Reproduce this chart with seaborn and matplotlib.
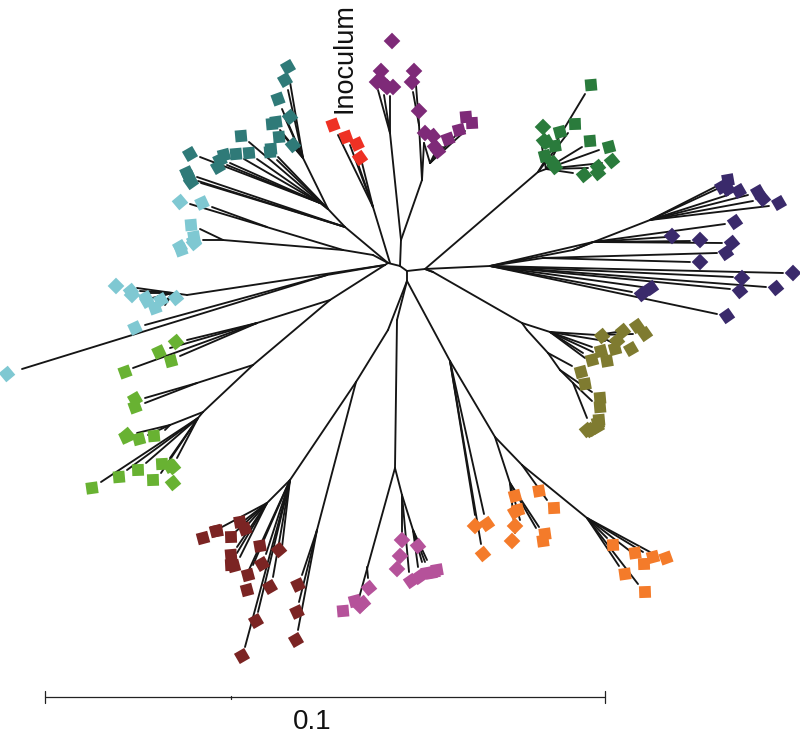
import matplotlib
matplotlib.use("Agg")
import matplotlib.pyplot as plt
from matplotlib.markers import MarkerStyle
from matplotlib.transforms import Affine2D
import pandas as pd
import seaborn as sns

clades = ["teal", "sky", "lime", "maroon", "pink", "orange", "olive", "navy", "forest", "purple", "red"]
colors = ["#2f7a78", "#7fc8d2", "#68b232", "#7b2423", "#b5529a", "#f47b2a", "#7f7b30", "#3a2a6b", "#2a7b3c", "#7e2a78", "#ee3124"]

teal_x = [288, 285, 278, 290, 272, 276, 279, 293, 270, 271, 241, 249, 236, 224, 220, 218, 190, 187, 189, 191]
teal_y = [67, 80, 99, 117, 124, 122, 137, 145, 152, 149, 136, 153, 154, 155, 160, 167, 154, 173, 177, 182]
teal_a = [30, 30, 20, 40, 5, 8, 5, 40, 5, 5, 5, 5, 5, 15, 25, 30, 30, 25, 25, 35]

sky_x = [180, 202, 191, 194, 194, 194, 180, 181, 116, 131, 132, 146, 147, 161, 155, 176, 135, 7]
sky_y = [202, 203, 225, 237, 241, 243, 247, 250, 286, 291, 295, 298, 301, 300, 308, 298, 328, 374]
sky_a = [40, 25, 5, 10, 30, 40, 30, 20, 45, 40, 45, 30, 30, 30, 20, 40, 25, 40]

lime_x = [176, 159, 171, 125, 135, 135, 127, 126, 139, 154, 162, 170, 173, 138, 119, 92, 153, 173]
lime_y = [342, 352, 361, 372, 399, 407, 435, 437, 439, 436, 464, 466, 467, 470, 477, 488, 480, 483]
lime_a = [40, 25, 15, 20, 30, 20, 40, 25, 15, 5, 3, 30, 40, 2, 5, 8, 2, 40]

maroon_x = [203, 216, 217, 240, 245, 231, 260, 279, 231, 231, 234, 262, 248, 247, 270, 298, 297, 256, 296, 242]
maroon_y = [538, 531, 531, 522, 529, 537, 546, 550, 555, 565, 566, 564, 575, 590, 587, 585, 612, 621, 640, 656]
maroon_a = [15, 15, 10, 10, 20, 2, 10, 40, 5, 3, 15, 30, 15, 15, 30, 25, 25, 30, 30, 30]

pink_x = [369, 355, 360, 363, 343, 402, 400, 397, 418, 411, 419, 427, 431, 434, 437]
pink_y = [588, 601, 606, 603, 611, 540, 556, 569, 546, 581, 577, 573, 573, 572, 570]
pink_a = [40, 15, 45, 40, 5, 45, 45, 45, 40, 35, 35, 10, 10, 10, 10]

orange_x = [475, 487, 483, 515, 515, 518, 515, 512, 545, 543, 539, 554, 613, 635, 653, 666, 644, 625, 645]
orange_y = [526, 524, 554, 496, 512, 510, 526, 541, 534, 541, 491, 508, 545, 553, 557, 558, 564, 574, 592]
orange_a = [45, 35, 40, 15, 30, 15, 45, 45, 8, 8, 10, 3, 3, 8, 15, 20, 2, 8, 2]

olive_x = [602, 623, 637, 645, 617, 615, 631, 601, 592, 607, 581, 585, 600, 600, 599, 598, 597, 593, 590, 587]
olive_y = [336, 331, 326, 334, 341, 349, 349, 351, 360, 361, 372, 384, 398, 407, 420, 423, 427, 429, 430, 430]
olive_a = [40, 40, 35, 35, 40, 15, 30, 15, 15, 10, 15, 10, 5, 5, 5, 15, 30, 35, 40, 40]

navy_x = [728, 722, 728, 739, 758, 763, 779, 735, 672, 700, 732, 726, 700, 793, 742, 776, 740, 651, 642, 727]
navy_y = [180, 187, 189, 191, 192, 199, 203, 222, 236, 240, 243, 253, 262, 273, 278, 288, 291, 288, 294, 316]
navy_a = [10, 30, 30, 30, 30, 40, 30, 35, 45, 45, 40, 35, 45, 45, 45, 40, 40, 35, 40, 35]

forest_x = [591, 575, 543, 560, 590, 609, 612, 544, 547, 555, 545, 553, 555, 598, 598, 584]
forest_y = [85, 124, 127, 132, 141, 147, 161, 141, 142, 146, 156, 163, 167, 167, 173, 175]
forest_a = [5, 2, 45, 15, 5, 15, 40, 40, 30, 10, 15, 40, 40, 40, 40, 40]

purple_x = [392, 381, 377, 383, 387, 393, 414, 412, 419, 425, 433, 435, 438, 448, 459, 466, 472]
purple_y = [41, 71, 82, 83, 87, 87, 71, 82, 111, 133, 136, 147, 151, 139, 130, 117, 123]
purple_a = [45, 45, 45, 45, 45, 45, 45, 45, 45, 45, 40, 40, 40, 20, 15, 5, 3]

red_x = [333, 346, 357, 360]
red_y = [125, 137, 144, 158]
red_a = [20, 20, 25, 35]

branch_x1 = [388,400,407,407,425,425,400,401,401,390,390,390,422,419,419,422,424,430,430,430,430,390,373,373,373,373,
 388,345,345,345,345,328,328,320,320,320,320,320,328,328,328,303,303,303,303,303,303,303,
 388,343,343,267,223,223,
 385,187,173,173,173,173,173,173,173,385,327,327,
 388,330,330,257,257,257,257,253,253,197,197,203,203,170,170,170,198,198,198,198,198,198,
 407,388,356,356,317,317,317,290,267,267,267,267,267,267,267,290,290,290,290,290,290,290,
 407,397,395,395,402,402,402,413,413,413,413,367,
 407,450,450,450,450,495,495,510,510,510,510,522,522,587,587,587,587,587,587,
 425,433,522,522,550,550,550,597,597,597,550,550,550,527,548,548,560,560,573,573,
 490,490,490,573,573,650,650,650,650,650,650,593,593,593,593,543,543,490,490,490,490,490,490,490,
 425,538,538,538,546,546,546,546,546,546,546, 373]
branch_y1 = [263,266,271,271,269,269,266,240,240,133,133,133,180,125,125,180,143,163,163,163,163,263,207,207,207,207,
 263,227,227,227,227,209,209,203,203,203,203,203,209,209,209,158,158,158,158,158,158,158,
 263,250,250,227,240,240,
 265,295,293,293,293,293,293,293,293,265,275,275,
 263,300,300,323,323,323,323,365,365,383,383,412,412,425,425,425,418,418,418,418,418,418,
 281,330,382,382,530,530,530,480,503,503,503,503,503,503,503,480,480,480,480,480,480,480,
 281,320,468,468,495,495,495,530,530,530,530,567,
 281,361,361,361,361,437,437,483,483,483,483,465,465,518,518,518,518,518,518,
 269,272,323,323,332,332,332,335,335,335,332,332,332,330,353,353,370,370,383,383,
 266,266,266,250,250,220,220,220,220,220,220,242,242,242,242,258,258,266,266,266,266,266,266,266,
 269,172,172,172,169,169,169,169,169,169,169, 255]
branch_x2 = [400,407,425,407,490,433,401,390,422,378,384,390,419,416,413,424,430,435,443,458,465,373,338,350,356,362,
 345,197,201,198,328,320,303,200,230,227,244,257,278,277,249,290,288,282,280,285,292,283,
 373,223,190,212,203,200,
 187,173,137,140,150,163,152,165,158,327,145,22,
 330,257,253,187,170,180,133,197,203,145,145,170,198,137,148,165,101,127,146,177,170,161,
 388,356,290,317,302,299,298,267,222,237,237,240,245,232,243,245,258,273,266,282,253,248,
 397,395,359,402,402,409,413,418,422,425,427,368,
 450,475,484,481,495,510,522,515,539,536,520,547,587,607,630,643,650,619,638,
 433,522,550,527,597,583,592,633,613,623,605,585,593,548,572,560,592,573,592,587,
 573,543,593,650,593,715,717,728,748,753,769,725,667,690,722,717,690,783,733,766,730,642,632,717,
 538,585,568,546,542,560,582,599,602,588,573, 343]
branch_y2 = [266,271,269,281,266,272,240,133,180,90,95,96,125,85,92,143,163,153,147,133,131,207,135,145,158,163,
 227,177,183,181,209,203,158,157,163,165,159,159,157,160,142,82,90,109,130,118,140,135,
 255,240,204,207,240,229,
 295,293,288,291,293,304,298,305,296,275,325,369,
 300,323,365,340,348,356,368,383,412,398,403,425,418,433,435,430,482,470,463,458,458,473,
 330,382,480,530,575,602,630,503,527,547,553,557,520,535,530,647,612,577,554,547,565,572,
 320,468,598,495,533,572,530,567,562,562,560,578,
 361,515,514,544,437,483,465,533,527,528,520,500,518,538,551,552,552,566,584,
 272,323,332,330,335,353,347,334,343,331,341,358,352,353,366,370,392,383,401,418,
 250,258,242,220,242,187,189,195,195,201,206,224,237,241,243,253,262,273,277,287,289,287,292,314,
 172,94,133,169,147,143,147,150,163,168,173, 250]

sns.set_theme(style="white")
plt.rcParams["font.family"] = ["Liberation Sans", "DejaVu Sans"]

fig = plt.figure(figsize=(8, 7.41), dpi=100)
ax = fig.add_axes([0, 0, 1, 1])

edges = pd.DataFrame({
    "edge": list(range(len(branch_x1))) * 2,
    "x": branch_x1 + branch_x2,
    "y": branch_y1 + branch_y2,
})
sns.lineplot(data=edges, x="x", y="y", units="edge", estimator=None, sort=False,
             color="#151515", linewidth=1.35, ax=ax, legend=False)

tip_sets = [(teal_x, teal_y, teal_a), (sky_x, sky_y, sky_a), (lime_x, lime_y, lime_a),
            (maroon_x, maroon_y, maroon_a), (pink_x, pink_y, pink_a), (orange_x, orange_y, orange_a),
            (olive_x, olive_y, olive_a), (navy_x, navy_y, navy_a), (forest_x, forest_y, forest_a),
            (purple_x, purple_y, purple_a), (red_x, red_y, red_a)]
tips = pd.concat([pd.DataFrame({"x": x, "y": y, "a": a, "clade": c})
                  for c, (x, y, a) in zip(clades, tip_sets)], ignore_index=True)
markers = {a: MarkerStyle("s", transform=Affine2D().rotate_deg(a)) for a in sorted(tips["a"].unique())}
sns.scatterplot(data=tips, x="x", y="y", hue="clade", hue_order=clades, palette=colors,
                style="a", markers=markers, s=72, linewidth=0, legend=False, ax=ax, zorder=3)

# scale bar
bar_x = [45, 231, 605]
bar_y = 697
ax.plot([bar_x[0], bar_x[-1]], [bar_y, bar_y], color="#222222", lw=0.9)
for bx in bar_x:
    h = 6 if bx != 231 else 1.5
    ax.plot([bx, bx], [bar_y - h, bar_y + h], color="#222222", lw=0.9)
ax.text(312, 722, "0.1", fontsize=20, ha="center", va="center", color="#111111")
ax.text(345, 58, "Inoculum", fontsize=19.5, rotation=90, ha="center", va="center", color="#111111")

ax.set_xlim(0, 800)
ax.set_ylim(741, 0)
ax.axis("off")
fig.savefig("out.png", dpi=100, facecolor="white")
